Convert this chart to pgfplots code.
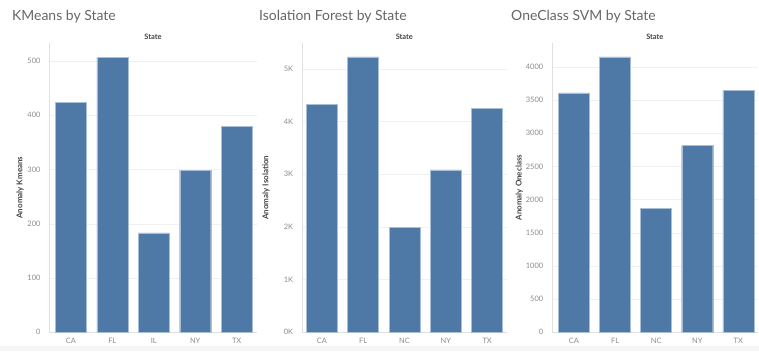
\documentclass[border=0pt]{standalone}
\usepackage{pgfplots}
\pgfplotsset{compat=1.18}
\usepackage{fontspec}
\setmainfont{Lato}
\definecolor{barblue}{HTML}{4E79A7}
\definecolor{baredge}{HTML}{A9BFD6}
\definecolor{titlegray}{HTML}{666666}
\definecolor{tickgray}{HTML}{8C8C8C}
\definecolor{labgray}{HTML}{444444}
\pgfplotsset{
  panel/.style={
    scale only axis,
    height=289.3bp,
    ybar,
    bar width=31bp,
    ymin=0,
    xtick={0,1,2,3,4},
    axis x line*=bottom,
    axis y line*=left,
    axis line style={draw=black!12},
    major tick length=0pt,
    ymajorgrids,
    grid style={draw=black!6},
    tick label style={font=\fontsize{7.5}{9}\selectfont, text=tickgray},
    yticklabel style={xshift=-5bp},
    xticklabel style={yshift=-2bp},
    /pgf/number format/assume math mode=true,
    /pgf/number format/1000 sep={},
    xlabel=State,
    xlabel style={at={(axis description cs:0.5,1)}, anchor=base, yshift=3bp, font=\fontsize{7.5}{9}\selectfont\bfseries, text=labgray},
    ylabel style={font=\fontsize{8}{10}\selectfont\bfseries, text=labgray, anchor=center},
    clip=false,
  },
  bars/.style={fill=barblue, draw=baredge, line width=0.4pt}
}
\begin{document}
\begin{tikzpicture}[x=1bp,y=1bp]
\path[use as bounding box, fill=white] (0,0) rectangle (759,351);
\fill[black!4] (0,0) rectangle (759,5);
% Panel 1
\begin{axis}[panel, at={(49bp,18.7bp)}, anchor=south west, width=208bp,
  xmin=-0.526, xmax=4.49, ymax=533,
  ytick={0,100,...,500},
  xticklabels={CA,FL,IL,NY,TX},
  ylabel={Anomaly Kmeans},
  ylabel style={at={(axis description cs:-0.139,0.5)}}]
\addplot[bars] coordinates {(0,424) (1,507) (2,183) (3,299) (4,380)};
\end{axis}
\node[anchor=base west, font=\fontsize{14}{16}\selectfont, text=titlegray, inner sep=0] at (12,331) {KMeans by State};
% Panel 2
\begin{axis}[panel, at={(301.7bp,18.7bp)}, anchor=south west, width=205.3bp,
  xmin=-0.487, xmax=4.48, ymax=5493,
  ytick={0,1000,...,5000},
  yticklabels={0K,1K,2K,3K,4K,5K},
  xticklabels={CA,FL,NC,NY,TX},
  ylabel={Anomaly Isolation},
  ylabel style={at={(axis description cs:-0.173,0.5)}}]
\addplot[bars] coordinates {(0,4329) (1,5228) (2,1994) (3,3082) (4,4247)};
\end{axis}
\node[anchor=base west, font=\fontsize{14}{16}\selectfont, text=titlegray, inner sep=0] at (259,331) {Isolation Forest by State};
% Panel 3
\begin{axis}[panel, at={(551.7bp,18.7bp)}, anchor=south west, width=206.3bp,
  xmin=-0.543, xmax=4.48, ymax=4361,
  ytick={0,500,...,4000},
  xticklabels={CA,FL,NC,NY,TX},
  ylabel={Anomaly Oneclass},
  ylabel style={at={(axis description cs:-0.157,0.5)}}]
\addplot[bars] coordinates {(0,3608) (1,4151) (2,1864) (3,2814) (4,3648)};
\end{axis}
\node[anchor=base west, font=\fontsize{14}{16}\selectfont, text=titlegray, inner sep=0] at (511,331) {OneClass SVM by State};
\end{tikzpicture}
\end{document}
